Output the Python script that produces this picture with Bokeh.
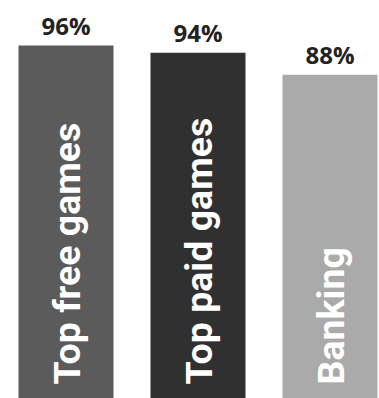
from bokeh.plotting import figure
from bokeh.models import ColumnDataSource, Range1d
from bokeh.core.properties import value
from bokeh.embed import file_html
from bokeh.resources import INLINE

categories = ["Top free games", "Top paid games", "Banking"]
values = [96, 94, 88]
value_labels = ["96%", "94%", "88%"]
colors = ["#5b5b5b", "#303030", "#aaaaaa"]

xs = list(range(len(categories)))
src = ColumnDataSource(dict(x=xs, top=values, cat=categories, lab=value_labels,
                            color=colors, zero=[0] * len(values)))

p = figure(width=379, height=398, output_backend="svg", toolbar_location=None,
           x_range=Range1d(-0.4962, 2.375), y_range=Range1d(0, 108.2),
           min_border=0, min_border_left=0, min_border_right=0,
           min_border_top=0, min_border_bottom=0)
p.axis.visible = False
p.grid.visible = False
p.outline_line_color = None
p.background_fill_color = "white"
p.border_fill_color = "white"

p.vbar(x="x", top="top", bottom=0, width=0.7197, fill_color="color",
       line_color=None, source=src)

p.text(x="x", y="top", text="lab", source=src, text_align="center",
       text_baseline="alphabetic", y_offset=-20, text_color="#222222",
       text_font=value("Open Sans"), text_font_style="bold",
       text_font_size="24px")

p.text(x="x", y="zero", text="cat", source=src, angle=1.5708,
       text_align="left", text_baseline="alphabetic", y_offset=-14, x_offset=1.5,
       text_color="white", text_font=value("Roboto"),
       text_font_style="bold", text_font_size="37.5px")

open("out.html", "w").write(file_html(p, INLINE))
